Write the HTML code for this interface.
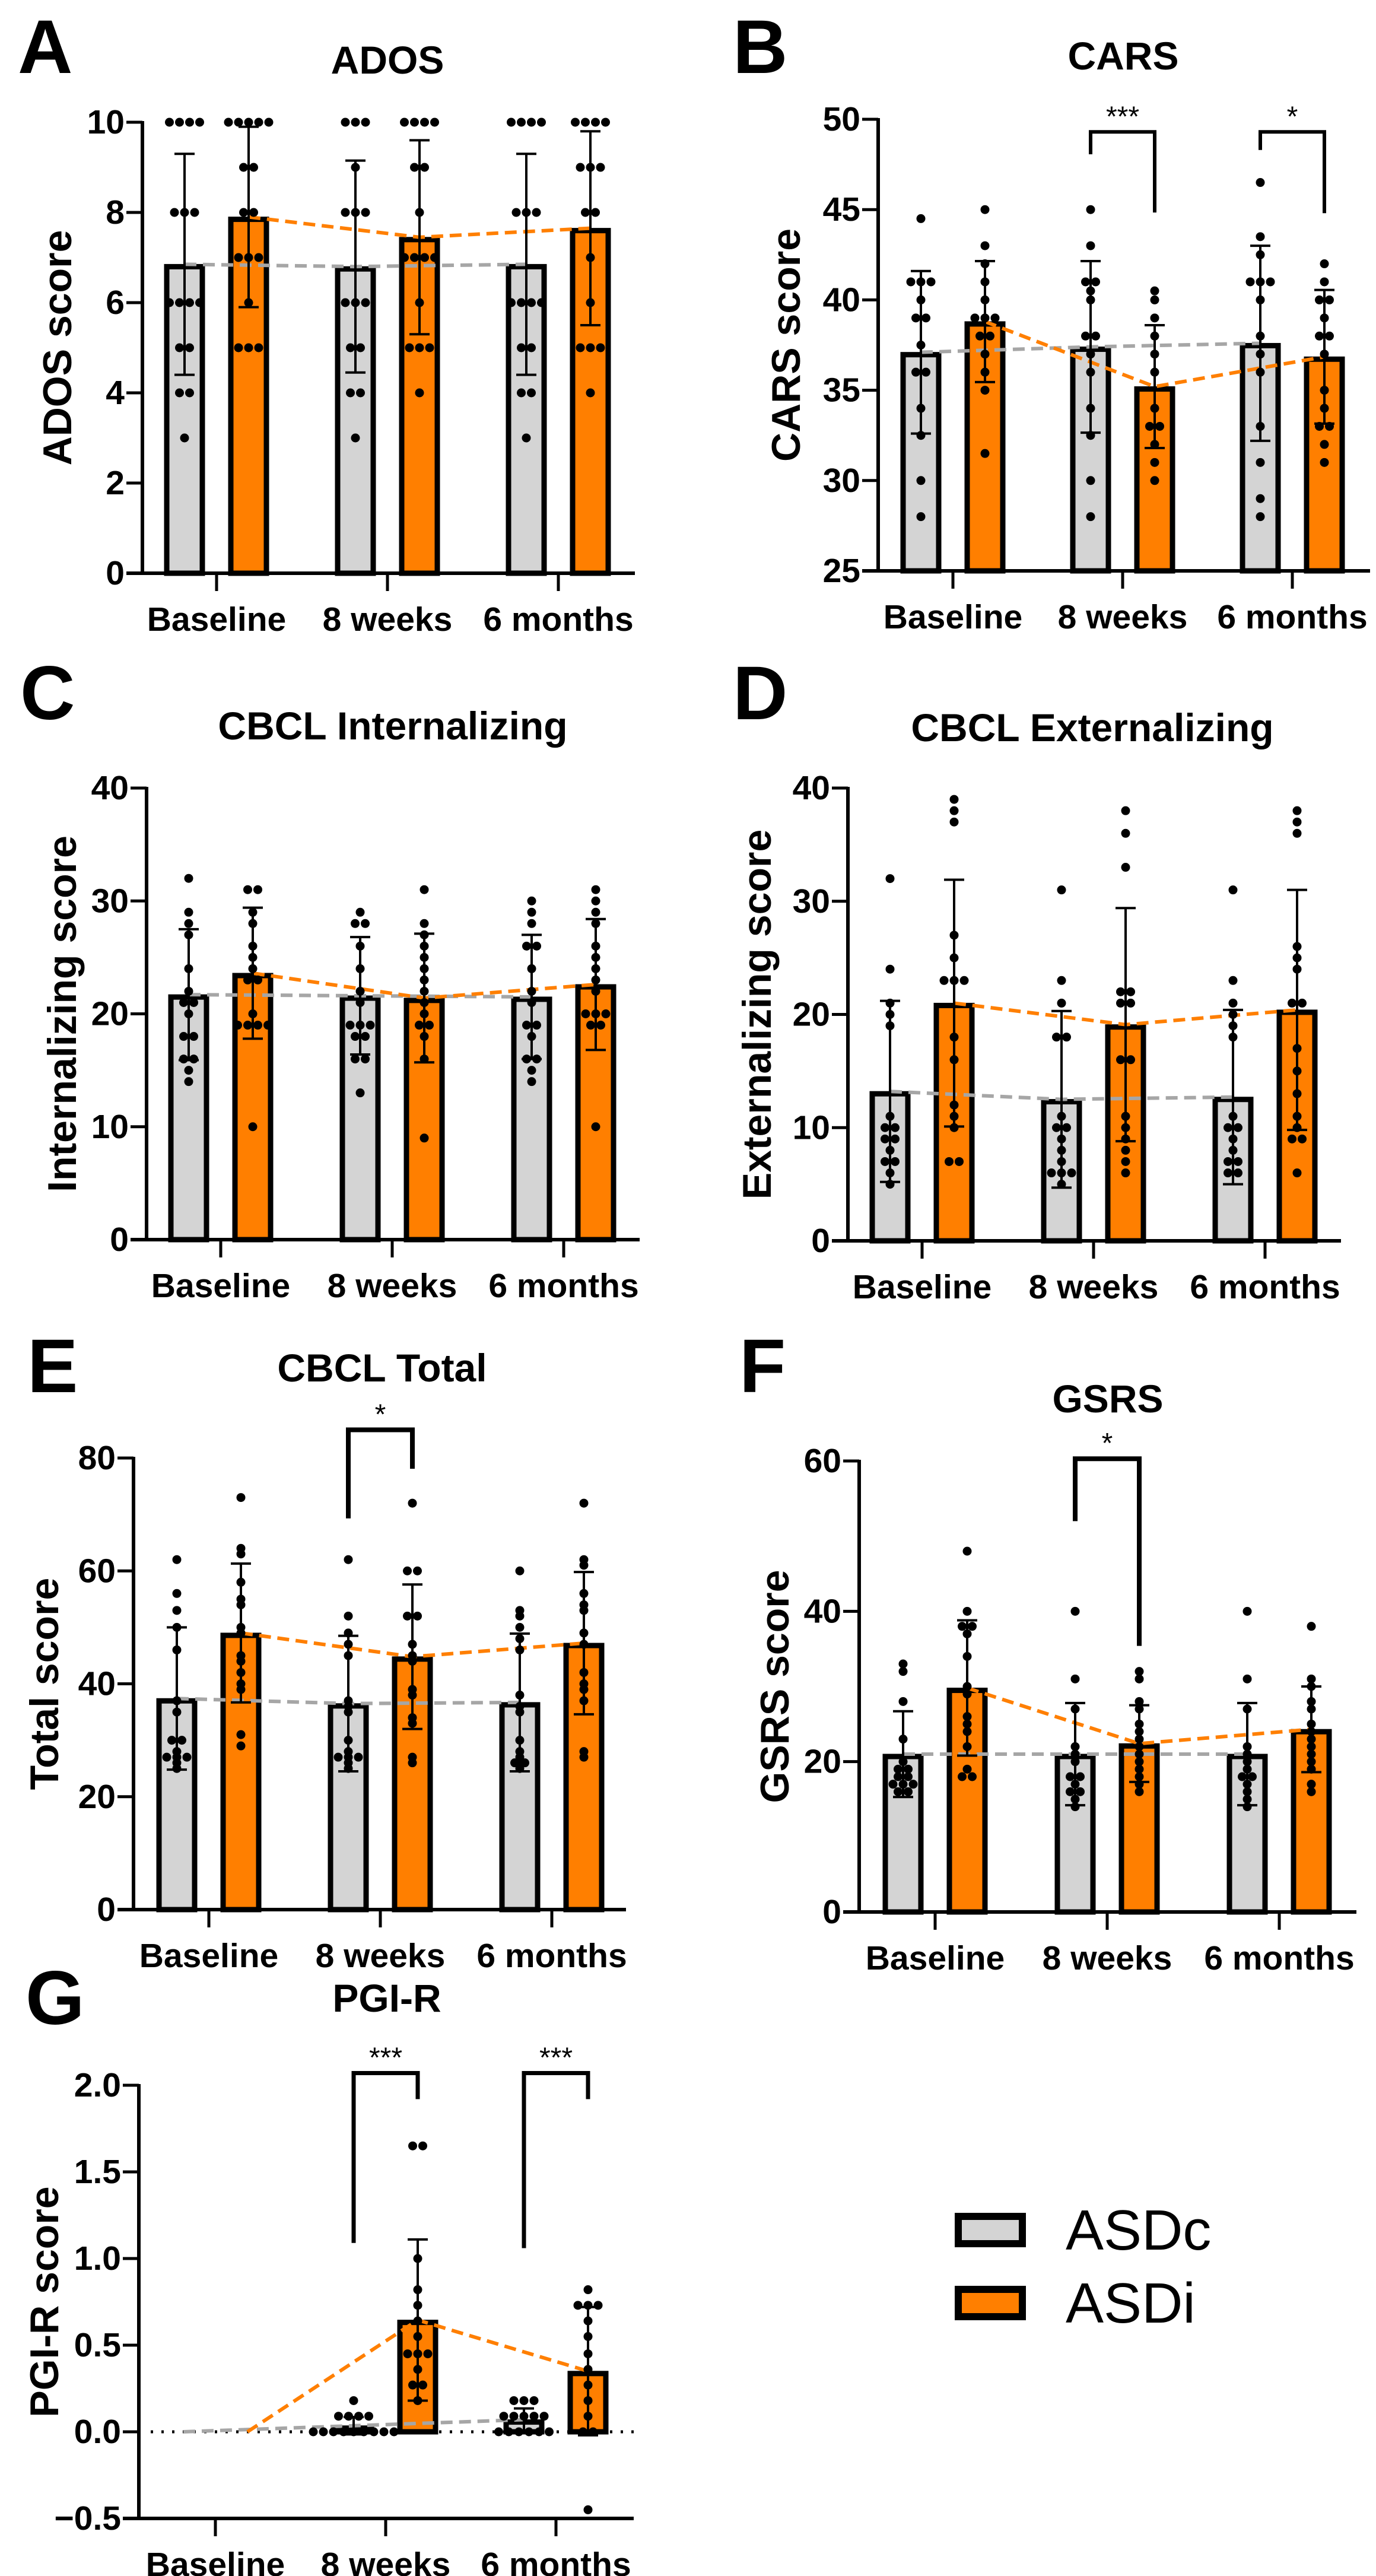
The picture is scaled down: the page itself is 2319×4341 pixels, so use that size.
<!DOCTYPE html>
<html><head><meta charset="utf-8"><style>
html,body{margin:0;padding:0;background:#fff;}
svg{display:block;font-family:"Liberation Sans",Arial,sans-serif;}
</style></head><body>
<svg id="fig" width="2319" height="4341" viewBox="0 0 2319 4341" xmlns="http://www.w3.org/2000/svg"></svg>
<script>
// ---------- DATA ----------
const timepoints = ["Baseline","8 weeks","6 months"];
// A ADOS
const adosTicks = [0,2,4,6,8,10];
const adosCtrlMean = [6.85,6.8,6.85];
const adosCtrlSD = [2.45,2.35,2.45];
const adosIntMean = [7.9,7.45,7.65];
const adosIntSD = [2.0,2.15,2.15];
const adosCtrlDots = [[10,10,10,10,8,8,8,6,6,6,6,5,5,4,4,3],[10,10,10,9,8,8,8,6,6,6,5,5,4,4,3],[10,10,10,10,8,8,8,6,6,6,6,5,5,4,4,3]];
const adosIntDots = [[10,10,10,10,10,9,9,8,8,7,7,7,6,5,5,5],[10,10,10,10,9,9,8,7,7,7,7,6,5,5,5,4],[10,10,10,10,9,9,9,8,8,7,6,5,5,5,4]];
// B CARS
const carsTicks = [25,30,35,40,45,50];
const carsCtrlMean = [37.1,37.4,37.6];
const carsCtrlSD = [4.5,4.75,5.4];
const carsIntMean = [38.8,35.2,36.85];
const carsIntSD = [3.35,3.4,3.7];
const carsCtrlDots = [[44.5,41,41,41,40,39,39,37.5,36,36,34,32.5,30,28],[45,43,41,41,40.5,40,38,38,37,36,34,32.5,30,28],[46.5,43.5,42.5,41,41,41,40,38,37,36,33,31,29,28]];
const carsIntDots = [[45,43,42,41,40,39,39,39,38,38,37,36,35,31.5],[40.5,40,39,38,37,36,34,33,33,32,31,30],[42,41,40,40,39,38,38,37,35,34,33,33,32,31]];
// C CBCL Internalizing
const intTicks = [0,10,20,30,40];
const intCtrlMean = [21.7,21.6,21.5];
const intCtrlSD = [5.8,5.2,5.5];
const intIntMean = [23.6,21.4,22.6];
const intIntSD = [5.8,5.7,5.8];
const intCtrlDots = [[32,29,28,27,24,22,21,21,20,18,18,16,16,15,14],[29,28,28,26,24,22,21,19,19,19,18,18,16,16,13],[30,29,28,26,26,24,22,21,19,19,18,16,16,15,14]];
const intIntDots = [[31,31,29,28,26,25,24,23,23,20,19,19,19,19,10],[31,28,27,26,25,24,23,22,21,20,19,19,18,16,9],[31,30,29,28,26,25,24,23,22,20,20,20,19,19,10]];
// D CBCL Externalizing
const extTicks = [0,10,20,30,40];
const extCtrlMean = [13.2,12.5,12.7];
const extCtrlSD = [8.0,7.8,7.7];
const extIntMean = [21.0,19.1,20.4];
const extIntSD = [10.9,10.3,10.6];
const extCtrlDots = [[32,24,21,20,19,11,10,10,9,9,8,7,7,6,5],[31,23,21,18,18,11,10,10,9,8,7,6,6,6,5],[31,23,21,20,19,18,11,10,10,9,8,7,7,6,6]];
const extIntDots = [[39,38,37,27,25,23,23,23,18,16,12,11,10,7,7],[38,36,33,22,22,21,21,16,16,11,10,9,8,7,6],[38,37,36,26,25,24,21,21,17,15,13,11,10,9,9,6]];
// E CBCL Total
const totTicks = [0,20,40,60,80];
const totCtrlMean = [37.4,36.5,36.7];
const totCtrlSD = [12.6,12.0,12.2];
const totIntMean = [49.0,44.8,47.2];
const totIntSD = [12.3,12.8,12.6];
const totCtrlDots = [[62,56,53,50,46,37,35,30,30,28,27,27,27,26,25],[62,52,49,47,45,37,36,35,30,28,27,27,27,26,25],[60,53,52,50,48,46,38,36,35,30,28,27,26,26,25]];
const totIntDots = [[73,64,63,58,55,54,50,49,45,44,42,40,39,31,29],[72,60,60,52,52,47,45,44,39,38,34,33,27,26],[72,62,61,56,54,53,49,47,42,40,39,37,28,27]];
// F GSRS
const gsrsTicks = [0,20,40,60];
const gsrsCtrlMean = [21.0,21.0,21.0];
const gsrsCtrlSD = [5.7,6.8,6.8];
const gsrsIntMean = [29.8,22.4,24.3];
const gsrsIntSD = [9.0,5.1,5.7];
const gsrsCtrlDots = [[33,32,28,23,20,19,19,18,18,17,17,17,16,16],[40,31,27,22,21,20,18,18,17,16,16,15,14],[40,31,27,22,21,20,19,18,18,17,16,15,14]];
const gsrsIntDots = [[48,40,38,38,37,34,30,29,26,25,24,22,19,18,18],[32,31,28,27,25,24,23,22,21,20,19,18,17,16],[38,31,30,28,27,25,24,23,22,21,20,19,17,16]];
// G PGI-R
const pgiTicks = [-0.5,0,0.5,1.0,1.5,2.0];
const pgiCtrlMean = [0,0.035,0.07];
const pgiCtrlSD = [0,0.05,0.065];
const pgiIntMean = [0,0.645,0.35];
const pgiIntSD = [0,0.465,0.37];
const pgiCtrlDots = [[],[0.18,0.09,0.09,0.09,0.09,0,0,0,0,0,0,0,0,0],[0.18,0.18,0.18,0.09,0.09,0.09,0.09,0.09,0,0,0,0,0,0]];
const pgiIntDots = [[],[1.65,1.65,1.0,0.82,0.73,0.64,0.55,0.45,0.45,0.45,0.36,0.27,0.27,0.18],[0.82,0.73,0.73,0.73,0.64,0.55,0.45,0.36,0.27,0.18,0.09,0,0,-0.45]];
// significance brackets: [timepoint index, top value, left-leg bottom, right-leg bottom, label]
const carsSig = [[1,49.3,48.06,44.84,"***"],[2,49.3,48.3,44.8,"*"]];
const totSig = [[1,85,69.3,78.1,"*"]];
const gsrsSig = [[1,60.3,52,35.4,"*"]];
const pgiSig = [[1,2.07,1.09,1.92,"***"],[2,2.07,1.06,1.92,"***"]];

// ---------- RENDER ----------
const NS = "http://www.w3.org/2000/svg";
const svg = document.getElementById("fig");
function mk(tag, attrs, parent){ const e=document.createElementNS(NS,tag); for(const k in attrs) e.setAttribute(k,attrs[k]); (parent||svg).appendChild(e); return e; }
const GRAY="#d4d4d4", ORANGE="#ff7f00";

function panel(p){
  const g = mk("g",{});
  
  
  const ymin=p.ticks[0], ymax=p.ticks[p.ticks.length-1];
  const y = v => p.y0 + (v-ymin)/(ymax-ymin)*(p.y1-p.y0);
  const xc = i => p.gx[0] + i*(p.gx[1]-p.gx[0]);
  const OFF=54;
  // letter
  const L = mk("text",{x:p.lx,y:p.ly,"font-size":128,"font-weight":"bold"},g); L.textContent=p.letter;
  
  
  const T = mk("text",{x:p.tx,y:p.ty,"font-size":66,"font-weight":"bold","text-anchor":"middle","dominant-baseline":"central"},g); T.textContent=p.title;
  
  
  const YT = mk("text",{x:0,y:0,"font-size":68,"font-weight":"bold","text-anchor":"middle","dominant-baseline":"central",transform:`translate(${p.ytx},${(p.y0+p.y1)/2}) rotate(-90)`},g); YT.textContent=p.ylabel;
  
  
  // axes
  const ya = mk("line",{x1:p.ax,y1:p.y1-2,x2:p.ax,y2:p.y0+3,stroke:"#000","stroke-width":6},g);
  
  
  p.ticks.forEach(t=>{
    mk("line",{x1:p.ax-27,y1:y(t),x2:p.ax,y2:y(t),stroke:"#000","stroke-width":5},g);
    const tl = mk("text",{x:p.ax-30,y:y(t),"font-size":57,"font-weight":"bold","text-anchor":"end","dominant-baseline":"central"},g);
    tl.textContent = p.fmt ? p.fmt(t) : String(t);
    
    
  });
  const xa = mk("line",{x1:p.ax-27,y1:p.y0,x2:p.xend,y2:p.y0,stroke:"#000","stroke-width":6},g);
  
  
  timepoints.forEach((tp,i)=>{
    mk("line",{x1:xc(i),y1:p.y0,x2:xc(i),y2:p.y0+30,stroke:"#000","stroke-width":5},g);
    const xl = mk("text",{x:xc(i),y:p.y0+97,"font-size":57,"font-weight":"bold","text-anchor":"middle"},g);
    xl.textContent=tp;
    
    
  });
  if(p.zeroLine){
    const zl = mk("line",{x1:p.ax+20,y1:y(0),x2:p.xend,y2:y(0),stroke:"#000","stroke-width":5,"stroke-dasharray":"4 14"},g);
    
    
  }
  const base = Math.max(ymin,0);
  const series=[{m:p.cm,s:p.cs,d:p.cd,fill:GRAY,off:-OFF,n:"asdc"},{m:p.im,s:p.is,d:p.id,fill:ORANGE,off:OFF,n:"asdi"}];
  // bars
  series.forEach(S=>{
    S.m.forEach((m,i)=>{
      if(p.skipBase && i===0) return;
      const top=Math.min(y(m),y(base)), h=Math.abs(y(base)-y(m));
      const r = mk("rect",{x:xc(i)+S.off-30,y:top+4,width:60,height:Math.max(h-4,0),fill:S.fill,stroke:"#000","stroke-width":9},g);
      
      
    });
  });
  // dashed mean lines
  series.forEach(S=>{
    const pts = S.m.map((m,i)=>`${xc(i)+S.off},${y(m)}`).join(" ");
    const pl = mk("polyline",{points:pts,fill:"none",stroke:S.fill===GRAY?"#a6a6a6":ORANGE,"stroke-width":6,"stroke-dasharray":"20 11"},g);
    
    
  });
  // dots
  series.forEach(S=>{
    S.d.forEach((arr,i)=>{
      const sorted=[...arr].sort((a,b)=>b-a);
      const rows=[];
      sorted.forEach(v=>{
        const py=y(v);
        const last=rows[rows.length-1];
        if(last && Math.abs(last.py-py)<8) last.vals.push(py); else rows.push({py,vals:[py]});
      });
      rows.forEach(row=>{
        const n=row.vals.length;
        row.vals.forEach((py,k)=>{
          const c = mk("circle",{cx:xc(i)+S.off+(k-(n-1)/2)*17,cy:py,r:7.5,fill:"#000"},g);
          
          
        });
      });
    });
  });
  // error bars
  series.forEach(S=>{
    S.m.forEach((m,i)=>{
      if(p.skipBase && i===0) return;
      const cx=xc(i)+S.off, hi=y(m+S.s[i]), lo=y(m-S.s[i]);
      const eg = mk("g",{stroke:"#000","stroke-width":4},g);
      
      
      mk("line",{x1:cx,y1:hi,x2:cx,y2:lo},eg);
      mk("line",{x1:cx-17,y1:hi,x2:cx+17,y2:hi},eg);
      mk("line",{x1:cx-17,y1:lo,x2:cx+17,y2:lo},eg);
    });
  });
  // significance
  (p.sig||[]).forEach(sg=>{
    const [i,top,lb,rb,lab]=sg;
    const l=xc(i)-OFF, r=xc(i)+OFF;
    const b = mk("polyline",{points:`${l},${y(lb)} ${l},${y(top)} ${r},${y(top)} ${r},${y(rb)}`,fill:"none",stroke:"#000","stroke-width":p.sw||7},g);
    
    
    const st = mk("text",{x:(l+r)/2,y:y(top)-10,"font-size":48,"text-anchor":"middle"},g);
    st.textContent=lab;
    
    
  });
}

panel({name:"panel-a-ados",letter:"A",lx:30,ly:123,title:"ADOS",tx:653,ty:101,ylabel:"ADOS score",ytx:97,ax:240,y0:966,y1:206,xend:1070,gx:[365,653],ticks:adosTicks,cm:adosCtrlMean,cs:adosCtrlSD,im:adosIntMean,is:adosIntSD,cd:adosCtrlDots,id:adosIntDots});
panel({name:"panel-b-cars",letter:"B",lx:1235,ly:123,title:"CARS",tx:1893,ty:94,ylabel:"CARS score",ytx:1325,ax:1480,y0:962,y1:201,xend:2309,gx:[1606,1892],ticks:carsTicks,cm:carsCtrlMean,cs:carsCtrlSD,im:carsIntMean,is:carsIntSD,cd:carsCtrlDots,id:carsIntDots,sig:carsSig,sw:6});
panel({name:"panel-c-cbcl-internalizing",letter:"C",lx:34,ly:1212,title:"CBCL Internalizing",tx:662,ty:1223,ylabel:"Internalizing score",ytx:105,ax:247,y0:2089,y1:1328,xend:1078,gx:[372,661],ticks:intTicks,cm:intCtrlMean,cs:intCtrlSD,im:intIntMean,is:intIntSD,cd:intCtrlDots,id:intIntDots});
panel({name:"panel-d-cbcl-externalizing",letter:"D",lx:1235,ly:1212,title:"CBCL Externalizing",tx:1841,ty:1226,ylabel:"Externalizing score",ytx:1276,ax:1429,y0:2091,y1:1328,xend:2260,gx:[1554,1843],ticks:extTicks,cm:extCtrlMean,cs:extCtrlSD,im:extIntMean,is:extIntSD,cd:extCtrlDots,id:extIntDots});
panel({name:"panel-e-cbcl-total",letter:"E",lx:46,ly:2346,title:"CBCL Total",tx:644,ty:2305,ylabel:"Total score",ytx:75,ax:225,y0:3218,y1:2457,xend:1055,gx:[352,641],ticks:totTicks,cm:totCtrlMean,cs:totCtrlSD,im:totIntMean,is:totIntSD,cd:totCtrlDots,id:totIntDots,sig:totSig,sw:8});
panel({name:"panel-f-gsrs",letter:"F",lx:1246,ly:2346,title:"GSRS",tx:1867,ty:2357,ylabel:"GSRS score",ytx:1306,ax:1448,y0:3222,y1:2462,xend:2286,gx:[1576,1866],ticks:gsrsTicks,cm:gsrsCtrlMean,cs:gsrsCtrlSD,im:gsrsIntMean,is:gsrsIntSD,cd:gsrsCtrlDots,id:gsrsIntDots,sig:gsrsSig,sw:8});
panel({name:"panel-g-pgi-r",letter:"G",lx:43,ly:3411,title:"PGI-R",tx:652,ty:3367,ylabel:"PGI-R score",ytx:75,ax:234,y0:4244,y1:3514,xend:1068,gx:[363,650],ticks:pgiTicks,fmt:t=>t<0?"\u2212"+Math.abs(t).toFixed(1):t.toFixed(1),zeroLine:true,skipBase:true,cm:pgiCtrlMean,cs:pgiCtrlSD,im:pgiIntMean,is:pgiIntSD,cd:pgiCtrlDots,id:pgiIntDots,sig:pgiSig,sw:7});

// legend
const lg = mk("g",{});


[["ASDc",GRAY,3729],["ASDi",ORANGE,3852]].forEach(([lab,col,yy])=>{
  const e = mk("g",{},lg);
  
  
  mk("rect",{x:1615,y:yy+6,width:108,height:46,fill:col,stroke:"#000","stroke-width":12},e);
  const t = mk("text",{x:1796,y:yy+62,"font-size":96},e);
  t.textContent=lab;
});
</script>
</body></html>
